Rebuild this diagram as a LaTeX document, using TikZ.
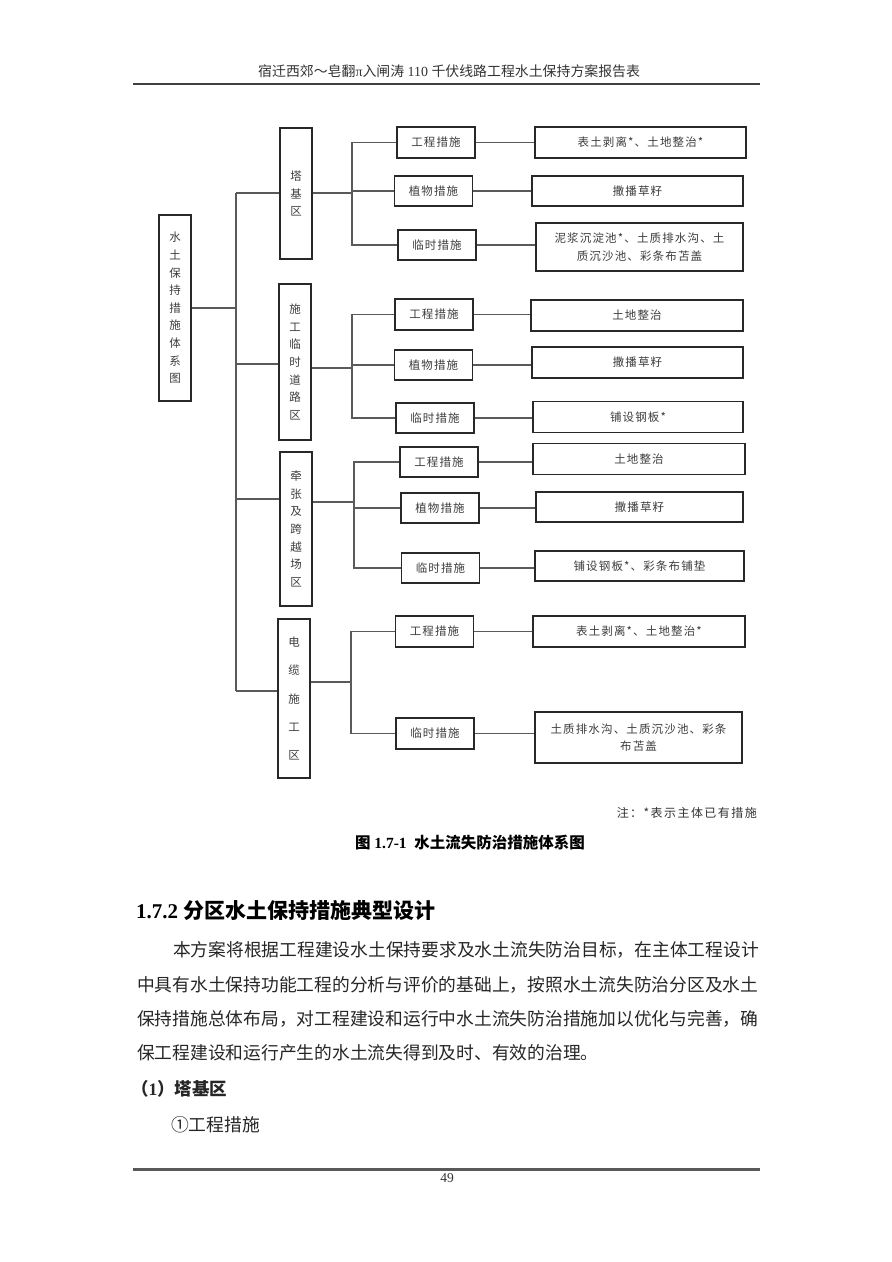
\documentclass[tikz,border=0pt]{standalone}
\usepackage{fontspec}
\usepackage{tikz}
\usetikzlibrary{positioning,calc}
\setmainfont{Liberation Serif}
\newfontfamily\cjk{Noto Sans CJK SC}
\newfontfamily\cjkls[LetterSpace=10]{Noto Sans CJK SC}
\newfontfamily\cjknote[LetterSpace=12]{Noto Sans CJK SC}
\definecolor{inkcolor}{RGB}{40,40,40}
\definecolor{linecolor}{RGB}{90,90,90}
\tikzset{
  zonebox/.style={draw=inkcolor,line width=1.3pt,inner sep=0pt,align=center,text=inkcolor!90,
    minimum width=32pt,font=\cjk\fontsize{11.5pt}{17.6pt}\selectfont},
  measbox/.style={draw=inkcolor,line width=1.3pt,inner sep=0pt,text=inkcolor!90,
    minimum width=78pt,minimum height=30pt,font=\cjkls\fontsize{11.5pt}{13pt}\selectfont},
  itembox/.style={draw=inkcolor,line width=1.3pt,inner sep=0pt,align=center,text=inkcolor!90,
    minimum width=211pt,minimum height=30pt,font=\cjkls\fontsize{11.5pt}{17.5pt}\selectfont},
  link/.style={draw=linecolor,line width=1.1pt},
  bodyline/.style={anchor=west,inner sep=0pt,text=black!85,font=\cjk\fontsize{17.75pt}{20pt}\selectfont}
}
\begin{document}
\begin{tikzpicture}[x=1pt,y=-1pt]
\useasboundingbox[fill=white] (0,0) rectangle (892,1262);
% page header
\node[anchor=west,inner sep=0pt,text=black!80,font=\fontsize{13.9pt}{16pt}\selectfont] (header) at (258,71)
  {{\cjk 宿迁西郊～皂翻}π{\cjk 入闸涛} 110 {\cjk 千伏线路工程水土保持方案报告表}};
\draw[black!75,line width=2.4pt] (133,84) -- (760,84);
% root and zones
\node[zonebox,minimum height=186pt] (root) at (175,308) {水\\土\\保\\持\\措\\施\\体\\系\\图};
\node[zonebox,minimum height=131pt] (z1) at (296,193.5) {塔\\基\\区};
\node[zonebox,minimum height=156pt] (z2) at (295,362) {施\\工\\临\\时\\道\\路\\区};
\node[zonebox,minimum height=154pt] (z3) at (296,529) {牵\\张\\及\\跨\\越\\场\\区};
\node[zonebox,minimum height=159pt,font=\cjk\fontsize{11.5pt}{28.3pt}\selectfont] (z4) at (294,698.5) {电\\缆\\施\\工\\区};
% measures
\node[measbox,minimum height=31pt] (m1a) at (436,142.5) {工程措施};
\node[measbox] (m1b) at (433.5,191) {植物措施};
\node[measbox] (m1c) at (437,245) {临时措施};
\node[measbox,minimum height=31pt] (m2a) at (434,314.5) {工程措施};
\node[measbox] (m2b) at (433.5,365) {植物措施};
\node[measbox] (m2c) at (435,418) {临时措施};
\node[measbox] (m3a) at (439,462) {工程措施};
\node[measbox] (m3b) at (440,508) {植物措施};
\node[measbox] (m3c) at (440.5,568) {临时措施};
\node[measbox,minimum height=31pt] (m4a) at (434.5,631.5) {工程措施};
\node[measbox,minimum height=31pt] (m4c) at (435,733.5) {临时措施};
% items
\node[itembox,minimum height=31pt] (i1a) at (640.5,142.5) {表土剥离*、土地整治*};
\node[itembox] (i1b) at (637.5,191) {撒播草籽};
\node[itembox,minimum width=207pt,minimum height=48pt] (i1c) at (639.5,247) {泥浆沉淀池*、土质排水沟、土\\质沉沙池、彩条布苫盖};
\node[itembox,minimum width=212pt,minimum height=31pt] (i2a) at (637,315.5) {土地整治};
\node[itembox,minimum height=31pt] (i2b) at (637.5,362.5) {撒播草籽};
\node[itembox,minimum width=210pt,minimum height=31pt] (i2c) at (638,417) {铺设钢板*};
\node[itembox,minimum width=212pt,minimum height=31pt] (i3a) at (639,459) {土地整治};
\node[itembox,minimum width=207pt] (i3b) at (639.5,507) {撒播草籽};
\node[itembox,minimum width=209pt] (i3c) at (639.5,566) {铺设钢板*、彩条布铺垫};
\node[itembox,minimum width=212pt,minimum height=31pt] (i4a) at (639,631.5) {表土剥离*、土地整治*};
\node[itembox,minimum width=207pt,minimum height=51pt,font=\cjkls\fontsize{11.5pt}{16.7pt}\selectfont] (i4c) at (638.5,737.5) {土质排水沟、土质沉沙池、彩条\\布苫盖};
% trunk and brackets
\coordinate (t1) at (236,193);
\coordinate (t2) at (236,364);
\coordinate (t3) at (236,499);
\coordinate (t4) at (236,691);
\coordinate (b1) at (352,193);
\coordinate (b2) at (352,368);
\coordinate (b3) at (354,502);
\coordinate (b4) at (351,682);
\draw[link] (root.east) -- (root.east -| t1);
\draw[link] (t1) -- (t4);
\draw[link] (t1) -- (t1 -| z1.west);
\draw[link] (t2) -- (t2 -| z2.west);
\draw[link] (t3) -- (t3 -| z3.west);
\draw[link] (t4) -- (t4 -| z4.west);
\draw[link] (b1 -| z1.east) -- (b1) |- (m1b.west);
\draw[link] (m1a.west) -| (b1) |- (m1c.west);
\draw[link] (b2 -| z2.east) -- (b2) |- (m2b.west);
\draw[link] (m2a.west) -| (b2) |- (m2c.west);
\draw[link] (b3 -| z3.east) -- (b3) |- (m3b.west);
\draw[link] (m3a.west) -| (b3) |- (m3c.west);
\draw[link] (b4 -| z4.east) -- (b4);
\draw[link] (m4a.west) -| (b4) |- (m4c.west);
\draw[link] (m1a.east) -- (m1a.east -| i1a.west);
\draw[link] (m1b.east) -- (m1b.east -| i1b.west);
\draw[link] (m1c.east) -- (m1c.east -| i1c.west);
\draw[link] (m2a.east) -- (m2a.east -| i2a.west);
\draw[link] (m2b.east) -- (m2b.east -| i2b.west);
\draw[link] (m2c.east) -- (m2c.east -| i2c.west);
\draw[link] (m3a.east) -- (m3a.east -| i3a.west);
\draw[link] (m3b.east) -- (m3b.east -| i3b.west);
\draw[link] (m3c.east) -- (m3c.east -| i3c.west);
\draw[link] (m4a.east) -- (m4a.east -| i4a.west);
\draw[link] (m4c.east) -- (m4c.east -| i4c.west);
% note and caption
\node[anchor=east,inner sep=0pt,text=black!80,font=\cjknote\fontsize{12pt}{14pt}\selectfont] (note) at (757,813) {注：*表示主体已有措施};
\node[inner sep=0pt,text=black,font=\bfseries\fontsize{15.5pt}{18pt}\selectfont] (caption) at (470,843)
  {{\cjk 图} 1.7-1\ \ {\cjk 水土流失防治措施体系图}};
% text below the figure
\node[anchor=west,inner sep=0pt,text=black,font=\bfseries\fontsize{21pt}{24pt}\selectfont] (heading) at (136,910)
  {1.7.2 {\cjk 分区水土保持措施典型设计}};
\node[bodyline] (para1) at (173,950) {本方案将根据工程建设水土保持要求及水土流失防治目标，在主体工程设计};
\node[bodyline] (para2) at (137,985) {中具有水土保持功能工程的分析与评价的基础上，按照水土流失防治分区及水土};
\node[bodyline] (para3) at (137,1019) {保持措施总体布局，对工程建设和运行中水土流失防治措施加以优化与完善，确};
\node[bodyline] (para4) at (137,1053) {保工程建设和运行产生的水土流失得到及时、有效的治理。};
\node[bodyline,font=\bfseries\fontsize{17.5pt}{20pt}\selectfont] (sub1) at (131,1089) {{\cjk （}1{\cjk ）塔基区}};
\node[bodyline] (sub1a) at (171,1125) {①工程措施};
% page footer
\draw[black!65,line width=2.2pt] (133,1169.5) -- (760,1169.5);
\node[inner sep=0pt,text=black!80,font=\fontsize{13.5pt}{15pt}\selectfont] (pageno) at (447,1178) {49};
\end{tikzpicture}
\end{document}
